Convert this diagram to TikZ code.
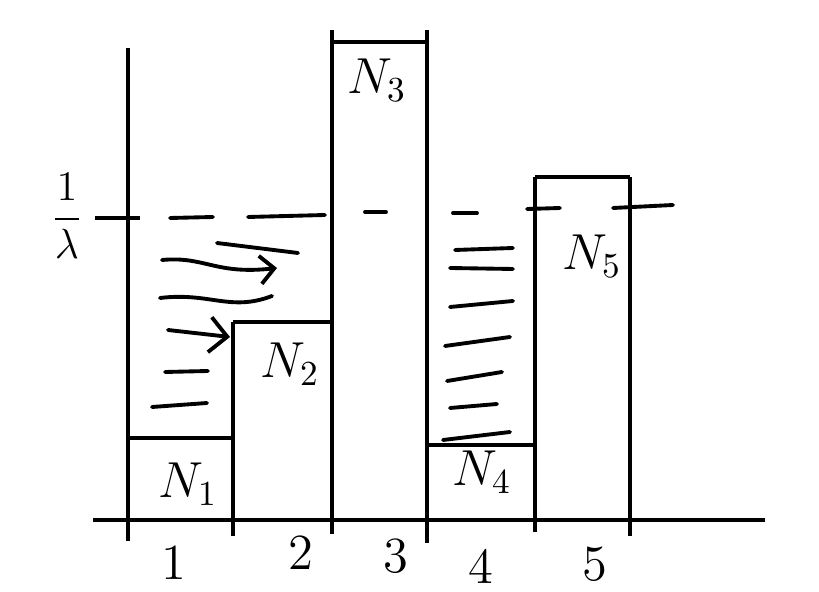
\documentclass[tikz,border=0pt]{standalone}
\usetikzlibrary{arrows.meta}
\tikzset{
  edge/.style={line width=1.3pt},
  hatch/.style={line width=1.1pt, line cap=round},
  lab/.style={font=\Large},
}

\begin{document}
\begin{tikzpicture}[x=0.1mm, y=-0.1mm]
    \useasboundingbox (0,0) rectangle (819,592);
    % axes
    \draw[edge](93,520)--(765,520);
    \draw[edge](128,48)--(128,541);
    % bars N1..N5
    \draw[edge](128,438)--(233,438);\draw[edge](233,322)--(233,536);
    \draw[edge](233,322)--(332,322);\draw[edge](332,30)--(332,534);
    \draw[edge](332,42)--(427,42);\draw[edge](427,30)--(427,543);
    \draw[edge](428,445)--(535,445);\draw[edge](535,177)--(535,532);
    \draw[edge](535,177)--(630,177);\draw[edge](630,177)--(630,536);
    % level 1/lambda
    \draw[edge](95,218)--(140,218);
    \foreach \a/\b/\c/\d in {170/218/213/217, 248/217/325/215, 365/212/386/212,
        453/213/477/213, 527/209/560/208, 613/208/673/205}
      \draw[hatch](\a,\b)--(\c,\d);
    % water N1, N2
    \draw[hatch](217,243)--(298,253);
    \draw[hatch,-{Straight Barb[length=4pt]}](162,260) .. controls (205,256) and (215,275) .. (277,268);
    \draw[hatch](160,298) .. controls (210,292) and (230,312) .. (272,296);
    \draw[hatch,-{Straight Barb[length=5pt]}](168,330)--(230,337);
    \draw[hatch](165,372)--(208,371);
    \draw[hatch](152,407)--(207,403);
    % water N4
    \foreach \a/\b/\c/\d in {455/250/513/248, 450/268/513/269, 450/307/513/301,
        445/346/510/337, 447/381/502/372, 450/408/497/404, 443/440/510/432}
      \draw[hatch](\a,\b)--(\c,\d);
    % labels
    \node[font=\large](lam) at (67,216){$\displaystyle\frac{1}{\lambda}$};
    \node[lab](n1) at (188,484){$N_1$};
    \node[lab](n2) at (290,364){$N_2$};
    \node[lab](n3) at (377,80){$N_3$};
    \node[lab](n4) at (482,472){$N_4$};
    \node[lab](n5) at (592,256){$N_5$};
    \node[lab](t1) at (174,563){1};
    \node[lab](t2) at (301,553){2};
    \node[lab](t3) at (396,556){3};
    \node[lab](t4) at (481,566){4};
    \node[lab](t5) at (595,564){5};
\end{tikzpicture}
\end{document}
